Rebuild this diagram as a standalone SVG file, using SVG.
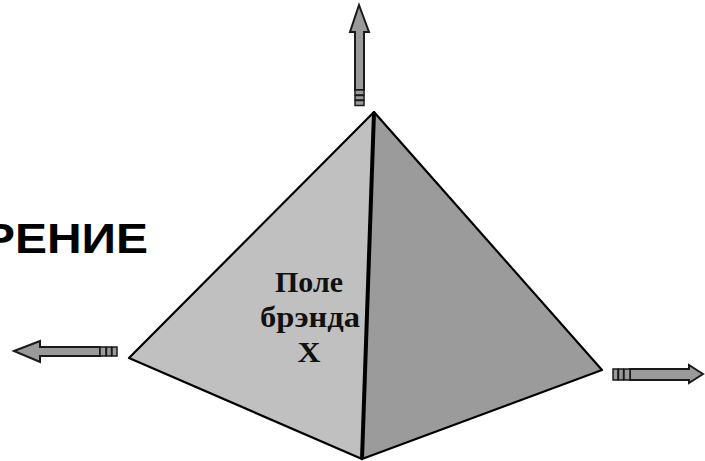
<svg xmlns="http://www.w3.org/2000/svg" width="705" height="461" viewBox="0 0 705 461">
<style>
.arr{fill:#9a9a9a;stroke:#1a1a1a;stroke-width:2;stroke-linejoin:miter}
.band{fill:#9a9a9a;stroke:#1a1a1a;stroke-width:1.5}
.lbl{font-family:"Liberation Serif","Times New Roman",serif;font-weight:bold;font-size:29px;fill:#111}
</style>
<rect width="705" height="461" fill="#ffffff"/>
<g id="title">
<text x="-17" y="253" font-family="Liberation Sans,Arial,sans-serif" font-weight="bold" font-size="42" fill="#000" textLength="165" lengthAdjust="spacingAndGlyphs">РЕНИЕ</text>
</g>
<g id="pyramid">
<polygon points="374,112 129,358 362,459" fill="#c0c0c0" stroke="#000" stroke-width="2.2" stroke-linejoin="round"/>
<polygon points="374,112 602,370 362,459" fill="#9b9b9b" stroke="#000" stroke-width="2.2" stroke-linejoin="round"/>
<line x1="374" y1="112" x2="362" y2="459" stroke="#000" stroke-width="4"/>
</g>
<g id="label">
<text class="lbl" x="309" y="292" text-anchor="middle" textLength="68" lengthAdjust="spacingAndGlyphs">Поле</text>
<text class="lbl" x="310" y="327" text-anchor="middle" textLength="100" lengthAdjust="spacingAndGlyphs">брэнда</text>
<text class="lbl" x="309" y="362" text-anchor="middle" textLength="23" lengthAdjust="spacingAndGlyphs">X</text>
</g>
<g id="connectors">
<g id="arrow-up">
<polygon class="arr" points="359,5 369,32 364,32 364,90 355,90 355,32 350,32"/>
<rect class="band" x="355" y="90" width="9" height="5"/>
<rect class="band" x="355" y="95.5" width="9" height="4.5"/>
<rect class="band" x="355" y="100.5" width="9" height="5"/>
</g>
<g id="arrow-left">
<polygon class="arr" points="14,351 40,341 40,347 100,347 100,356 40,356 40,362"/>
<rect class="band" x="100" y="347" width="6" height="9"/>
<rect class="band" x="106.5" y="347" width="5" height="9"/>
<rect class="band" x="112" y="347" width="5" height="9"/>
</g>
<g id="arrow-right">
<polygon class="arr" points="703,374 689,365 689,369 630,369 630,380 689,380 689,383"/>
<rect class="band" x="613" y="369" width="5" height="11"/>
<rect class="band" x="618.5" y="369" width="5" height="11"/>
<rect class="band" x="624" y="369" width="6" height="11"/>
</g>
</g>
</svg>
